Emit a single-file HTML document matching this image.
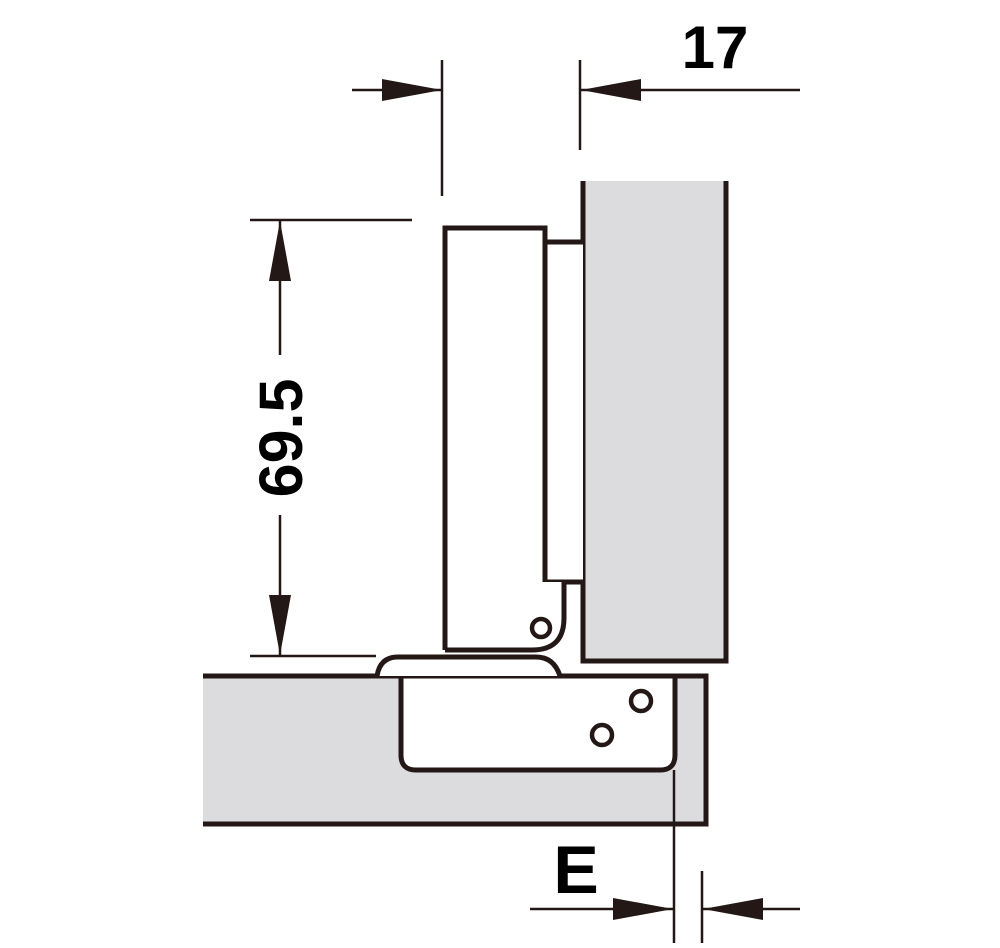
<!DOCTYPE html>
<html><head><meta charset="utf-8"><style>html,body{margin:0;padding:0;background:#fff}</style></head>
<body>
<svg width="1000" height="943" viewBox="0 0 1000 943" xmlns="http://www.w3.org/2000/svg">
<defs>
<marker id="a" viewBox="0 0 60 22" refX="60" refY="11" markerWidth="60" markerHeight="22" markerUnits="userSpaceOnUse" orient="auto"><path d="M0,0 L60,11 L0,22 Z" fill="#231815"/></marker>
</defs>
<g stroke="#231815" fill="none">
<!-- side panel -->
<path d="M583,181 V661 H726 V181 Z" fill="#dcdcdf" stroke="none"/>
<path d="M583,181 V661 H726 V181" stroke-width="5"/>
<!-- bottom panel -->
<path d="M203,676 H706 V824 H203 Z" fill="#dcdcdf" stroke="none"/>
<path d="M203,676 H706 V824 H203" stroke-width="5"/>
<!-- cup -->
<path d="M401,676 V755 Q401,770 416,770 H660 Q675,770 675,755 V676 Z" fill="#fff" stroke-width="5"/>
<!-- cap bump -->
<path d="M377,676 Q380,657 398,657 H536 Q554,657 560,676" fill="#fff" stroke-width="5"/>
<!-- strip -->
<path d="M545,242 H583 V582 H545 Z" fill="#fff" stroke="none"/>
<path d="M545,242 H583 M545,242 V582 H583" stroke-width="5"/>
<!-- arm -->
<path d="M445,228 H545 V582 H564 V618 Q564,650 532,650 H445 Z" fill="#fff" stroke="none"/>
<path d="M445,650 V228 H545 V582 M564,582 V618 Q564,650 532,650 H445" stroke-width="5"/>
<circle cx="541" cy="628" r="9" stroke-width="4.5" fill="#fff"/>
<circle cx="641" cy="701" r="10" stroke-width="4.5" fill="#fff"/>
<circle cx="602" cy="735" r="10" stroke-width="4.5" fill="#fff"/>
<!-- dimension lines -->
<g stroke-width="2.5">
<line x1="442" y1="60" x2="442" y2="196"/>
<line x1="580" y1="60" x2="580" y2="150"/>
<line x1="352" y1="90" x2="442" y2="90" marker-end="url(#a)"/>
<line x1="800" y1="90" x2="581" y2="90" marker-end="url(#a)"/>
<line x1="250" y1="220" x2="412" y2="220"/>
<line x1="250" y1="656" x2="376" y2="656"/>
<line x1="280" y1="355" x2="280" y2="221" marker-end="url(#a)"/>
<line x1="280" y1="515" x2="280" y2="655" marker-end="url(#a)"/>
<line x1="674" y1="770" x2="674" y2="943"/>
<line x1="702" y1="871" x2="702" y2="943"/>
<line x1="530" y1="909" x2="673" y2="909" marker-end="url(#a)"/>
<line x1="800" y1="909" x2="703" y2="909" marker-end="url(#a)"/>
</g>
</g>
<g font-family="Liberation Sans, sans-serif" font-weight="bold" fill="#000">
<text x="715" y="68" font-size="60" text-anchor="middle">17</text>
<text x="576" y="893" font-size="68" text-anchor="middle">E</text>
<text transform="translate(302,438) rotate(-90)" font-size="61" text-anchor="middle">69.5</text>
</g>
</svg>
</body></html>
